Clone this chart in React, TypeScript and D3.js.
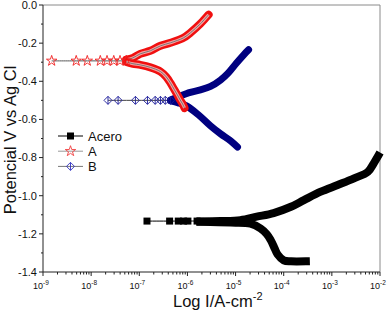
import React from 'react';
import * as d3 from 'd3';

// log10(I) and potential (V vs Ag/AgCl)
const aceroFlat: [number, number][] = [
  [-6.84, -1.133], [-6.37, -1.133], [-6.19, -1.133], [-6.08, -1.133], [-5.99, -1.133], [-5.8, -1.133], [-5.73, -1.135]
];
const aceroAnodic: [number, number][] = [
  [-5.73, -1.135], [-5.31, -1.133], [-4.9, -1.128], [-4.56, -1.11], [-4.21, -1.091], [-3.85, -1.058],
  [-3.58, -1.023], [-3.23, -0.979], [-2.88, -0.944], [-2.54, -0.909], [-2.25, -0.874], [-2.13, -0.83], [-2.04, -0.792]
];
const aceroCathodic: [number, number][] = [
  [-5.73, -1.137], [-5.1, -1.141], [-4.69, -1.146], [-4.48, -1.172], [-4.35, -1.202], [-4.27, -1.233],
  [-4.19, -1.275], [-4.13, -1.307], [-4.0, -1.339], [-3.85, -1.344], [-3.54, -1.344]
];

const aFlat: [number, number][] = [
  [-8.82, -0.293], [-8.31, -0.293], [-8.08, -0.293], [-7.81, -0.293], [-7.67, -0.293], [-7.53, -0.293], [-7.4, -0.293], [-7.27, -0.292]
];
const aAnodic: [number, number][] = [
  [-7.27, -0.287], [-7.13, -0.277], [-6.98, -0.256], [-6.77, -0.24], [-6.56, -0.214], [-6.35, -0.198],
  [-6.08, -0.172], [-5.94, -0.146], [-5.73, -0.098], [-5.56, -0.051]
];
const aCathodic: [number, number][] = [
  [-7.27, -0.298], [-7.13, -0.308], [-6.98, -0.314], [-6.77, -0.327], [-6.56, -0.349], [-6.44, -0.377],
  [-6.35, -0.41], [-6.27, -0.445], [-6.21, -0.471], [-6.15, -0.498], [-6.1, -0.519], [-6.06, -0.54]
];

const bFlat: [number, number][] = [
  [-7.65, -0.5], [-7.44, -0.5], [-7.08, -0.5], [-6.83, -0.5], [-6.67, -0.5], [-6.56, -0.5], [-6.46, -0.5], [-6.35, -0.5]
];
const bAnodic: [number, number][] = [
  [-6.35, -0.498], [-6.15, -0.477], [-5.94, -0.458], [-5.73, -0.445], [-5.52, -0.427], [-5.31, -0.393],
  [-5.15, -0.356], [-4.98, -0.304], [-4.83, -0.261], [-4.73, -0.235]
];
const bCathodic: [number, number][] = [
  [-6.35, -0.503], [-6.19, -0.513], [-6.02, -0.529], [-5.77, -0.576], [-5.52, -0.634], [-5.31, -0.676],
  [-5.1, -0.713], [-4.96, -0.745]
];

const seriesNames = ['Acero', 'A', 'B'];
const yTicks = [0, -0.2, -0.4, -0.6, -0.8, -1.0, -1.2, -1.4];
const yMinor = [-0.1, -0.3, -0.5, -0.7, -0.9, -1.1, -1.3];
const xDecades = [-9, -8, -7, -6, -5, -4, -3, -2];

const W = 391;
const H = 314;
const font = 'Liberation Sans, Arial, sans-serif';

const x = d3.scaleLog().domain([1e-9, 1e-2]).range([43, 380]);
const y = d3.scaleLinear().domain([-1.4, 0]).range([272, 5]);

const line = d3
  .line<[number, number]>()
  .x(d => x(Math.pow(10, d[0])))
  .y(d => y(d[1]))
  .curve(d3.curveCatmullRom);

const star = d3.symbol().type(d3.symbolStar).size(34)() as string;
const diamond = 'M0,-4L4,0L0,4L-4,0Z';

const px = (d: [number, number]) => x(Math.pow(10, d[0]));
const py = (d: [number, number]) => y(d[1]);

function Square({ cx, cy }: { cx: number; cy: number }) {
  return <rect x={cx - 3.5} y={cy - 3.5} width={7} height={7} fill="#000" />;
}

function Star({ cx, cy, color }: { cx: number; cy: number; color: string }) {
  return <path d={star} transform={`translate(${cx},${cy})`} fill="none" stroke={color} strokeWidth={0.9} />;
}

function Diamond({ cx, cy, color }: { cx: number; cy: number; color: string }) {
  return (
    <g transform={`translate(${cx},${cy})`} fill="none" stroke={color} strokeWidth={0.9}>
      <path d={diamond} />
      <line x1={0} x2={0} y1={-4} y2={4} />
    </g>
  );
}

export default function App() {
  const minor: number[] = [];
  xDecades.slice(0, -1).forEach(e => {
    d3.range(2, 10).forEach(m => minor.push(m * Math.pow(10, e)));
  });

  return (
    <svg width={W} height={H} style={{ position: 'absolute', left: 0, top: 0, background: '#fff' }} fontFamily={font}>
      {/* frame */}
      <line x1={43} x2={380} y1={5} y2={5} stroke="#8a8a8a" />
      <line x1={380} x2={380} y1={5} y2={272} stroke="#8a8a8a" />

      {/* Acero */}
      <path d={line(aceroFlat) as string} fill="none" stroke="#000" strokeWidth={1} />
      <path d={line(aceroAnodic) as string} fill="none" stroke="#000" strokeWidth={8} strokeLinecap="square" />
      <path d={line(aceroCathodic) as string} fill="none" stroke="#000" strokeWidth={8} strokeLinecap="square" />
      {aceroFlat.map((d, i) => <Square key={i} cx={px(d)} cy={py(d)} />)}

      {/* B */}
      <path d={line(bFlat) as string} fill="none" stroke="#444" strokeWidth={1} />
      {[bAnodic, bCathodic].map((br, k) => (
        <g key={k}>
          <path d={line(br) as string} fill="none" stroke="#000080" strokeWidth={7} strokeLinecap="round" />
        </g>
      ))}
      {bFlat.map((d, i) => <Diamond key={i} cx={px(d)} cy={py(d)} color="#1a1a9a" />)}

      {/* A */}
      <path d={line(aFlat) as string} fill="none" stroke="#555" strokeWidth={1} />
      {[aAnodic, aCathodic].map((br, k) => (
        <g key={k}>
          <path d={line(br) as string} fill="none" stroke="#f01010" strokeWidth={8} strokeLinecap="round" />
          <path d={line(br) as string} fill="none" stroke="#f7a0a0" strokeWidth={3} />
          <path d={line(br) as string} fill="none" stroke="#777" strokeWidth={1} />
        </g>
      ))}
      {aFlat.map((d, i) => <Star key={i} cx={px(d)} cy={py(d)} color="#f02020" />)}

      {/* y axis */}
      <line x1={43} x2={43} y1={5} y2={272} stroke="#222" />
      {yTicks.map(t => (
        <g key={t}>
          <line x1={39} x2={43} y1={y(t)} y2={y(t)} stroke="#222" />
          <text x={37} y={y(t)} dy="0.35em" textAnchor="end" fontSize={11} fill="#111">
            {t === 0 ? '0.0' : t.toFixed(1)}
          </text>
        </g>
      ))}
      {yMinor.map(t => (
        <line key={t} x1={41} x2={43} y1={y(t)} y2={y(t)} stroke="#222" />
      ))}

      {/* x axis */}
      <line x1={43} x2={380} y1={272} y2={272} stroke="#222" />
      {xDecades.map(e => (
        <g key={e}>
          <line x1={x(Math.pow(10, e))} x2={x(Math.pow(10, e))} y1={272} y2={276} stroke="#222" />
          <text x={x(Math.pow(10, e)) - 2} y={289} textAnchor="middle" fontSize={9} fill="#111">
            10<tspan dy={-4} fontSize={6.5}>{e}</tspan>
          </text>
        </g>
      ))}
      {minor.map((v, i) => (
        <line key={i} x1={x(v)} x2={x(v)} y1={272} y2={274.5} stroke="#222" />
      ))}

      {/* axis titles */}
      <text x={173} y={307} fontSize={16.5} fill="#111">
        Log I/A-cm<tspan dy={-7} fontSize={11}>-2</tspan>
      </text>
      <text transform="translate(16,140) rotate(-90)" textAnchor="middle" fontSize={16.5} fill="#111">
        Potencial V vs Ag Cl
      </text>

      {/* legend */}
      {seriesNames.map((name, i) => {
        const ly = 136 + i * 15.2;
        return (
          <g key={name}>
            <line x1={58} x2={83} y1={ly} y2={ly} stroke={i === 0 ? '#000' : i === 1 ? '#999' : '#777'} />
            {i === 0 && <Square cx={70.5} cy={ly} />}
            {i === 1 && <Star cx={70.5} cy={ly} color="#f04040" />}
            {i === 2 && <Diamond cx={70.5} cy={ly} color="#3030c0" />}
            <text x={88} y={ly} dy="0.36em" fontSize={13} fill="#111">
              {name}
            </text>
          </g>
        );
      })}
    </svg>
  );
}
